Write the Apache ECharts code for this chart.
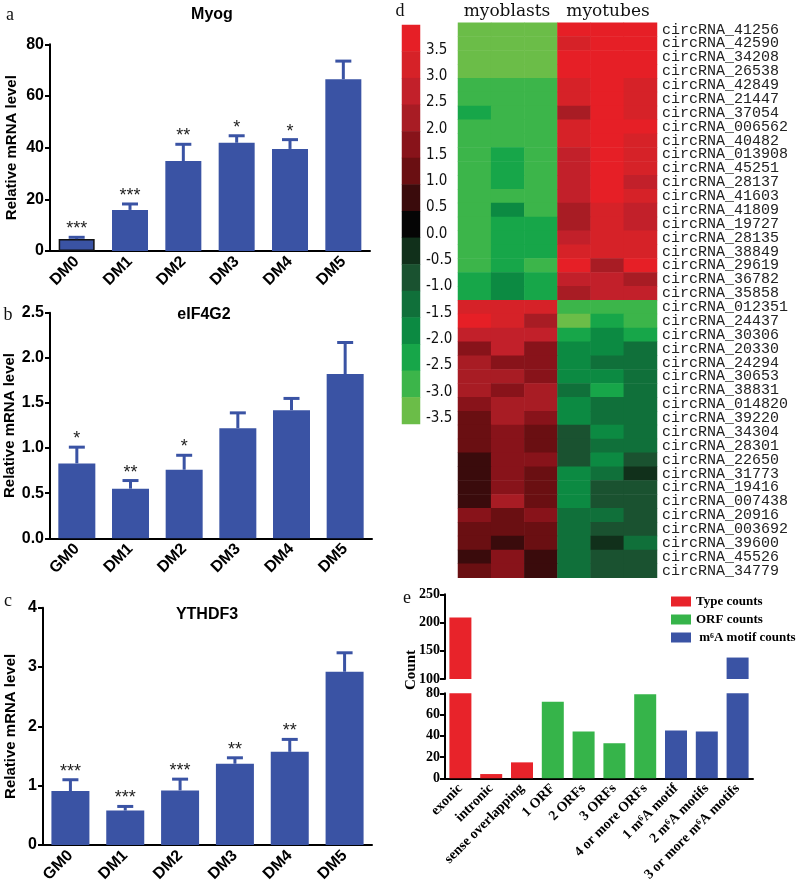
<!DOCTYPE html>
<html><head><meta charset="utf-8">
<script src="https://cdn.jsdelivr.net/npm/echarts@6/dist/echarts.min.js"></script>
<style>html,body{margin:0;padding:0;background:#fff}#c{width:800px;height:896px}</style>
</head><body><div id="c"></div>
<script>
// ---------- Panel a: Myog ----------
const myogCats = ['DM0','DM1','DM2','DM3','DM4','DM5'];
const myogMean = [4.6, 15.9, 34.8, 41.9, 39.5, 66.5];
const myogErrTop = [5.3, 18.2, 41.3, 44.6, 43.1, 73.5];
const myogStars = ['***','***','**','*','*',''];
const myogTicks = [0, 20, 40, 60, 80];
// ---------- Panel b: eIF4G2 ----------
const eifCats = ['GM0','DM1','DM2','DM3','DM4','DM5'];
const eifMean = [0.83, 0.55, 0.76, 1.22, 1.42, 1.82];
const eifErrTop = [1.01, 0.64, 0.92, 1.39, 1.55, 2.17];
const eifStars = ['*','**','*','','',''];
const eifTicks = ['0.0','0.5','1.0','1.5','2.0','2.5'];
// ---------- Panel c: YTHDF3 ----------
const ythCats = ['GM0','DM1','DM2','DM3','DM4','DM5'];
const ythMean = [0.91, 0.58, 0.92, 1.37, 1.57, 2.92];
const ythErrTop = [1.10, 0.65, 1.11, 1.47, 1.78, 3.24];
const ythStars = ['***','***','***','**','**',''];
const ythTicks = [0, 1, 2, 3, 4];
// ---------- Panel d: heatmap ----------
const hmCols = ['myoblasts-1','myoblasts-2','myoblasts-3','myotubes-1','myotubes-2','myotubes-3'];
const hmRows = ['circRNA_41256','circRNA_42590','circRNA_34208','circRNA_26538','circRNA_42849',
 'circRNA_21447','circRNA_37054','circRNA_006562','circRNA_40482','circRNA_013908',
 'circRNA_45251','circRNA_28137','circRNA_41603','circRNA_41809','circRNA_19727',
 'circRNA_28135','circRNA_38849','circRNA_29619','circRNA_36782','circRNA_35858',
 'circRNA_012351','circRNA_24437','circRNA_30306','circRNA_20330','circRNA_24294',
 'circRNA_30653','circRNA_38831','circRNA_014820','circRNA_39220','circRNA_34304',
 'circRNA_28301','circRNA_22650','circRNA_31773','circRNA_19416','circRNA_007438',
 'circRNA_20916','circRNA_003692','circRNA_39600','circRNA_45526','circRNA_34779'];
const hmValues = [
 [-3.5,-3.5,-3.5, 3.5,3.5,3.5],
 [-3.5,-3.5,-3.5, 3.0,3.5,3.5],
 [-3.5,-3.5,-3.5, 3.5,3.5,3.5],
 [-3.5,-3.5,-3.5, 3.5,3.5,3.5],
 [-3.0,-3.0,-3.0, 3.0,3.5,3.0],
 [-3.0,-3.0,-3.0, 3.0,3.5,3.0],
 [-2.5,-3.0,-3.0, 2.0,3.5,3.0],
 [-3.0,-3.0,-3.0, 3.0,3.5,3.5],
 [-3.0,-3.0,-3.0, 3.0,3.5,3.0],
 [-3.0,-2.5,-3.0, 2.5,3.5,3.0],
 [-3.0,-2.5,-3.0, 2.5,3.5,3.0],
 [-3.0,-2.5,-3.0, 2.5,3.5,2.5],
 [-3.0,-3.0,-3.0, 2.5,3.5,3.0],
 [-3.0,-2.0,-3.0, 2.0,3.0,2.5],
 [-3.0,-2.5,-2.5, 2.0,3.0,2.5],
 [-3.0,-2.5,-2.5, 2.5,3.0,3.0],
 [-3.0,-2.5,-2.5, 3.0,3.0,3.0],
 [-3.0,-2.5,-3.0, 3.5,2.0,3.5],
 [-2.5,-2.0,-2.5, 2.5,2.5,2.0],
 [-2.5,-2.0,-2.5, 2.0,2.5,2.5],
 [3.0,3.0,3.0, -3.0,-3.0,-3.0],
 [3.5,3.0,2.0, -3.5,-2.5,-3.0],
 [2.5,2.5,2.5, -2.5,-2.0,-2.5],
 [1.5,2.5,1.5, -2.0,-2.0,-1.5],
 [2.0,1.5,1.5, -2.0,-1.5,-1.5],
 [2.0,2.0,1.5, -2.0,-2.0,-1.5],
 [2.0,1.5,2.0, -1.5,-2.5,-1.5],
 [1.5,2.0,2.0, -2.0,-1.5,-1.5],
 [1.0,2.0,1.5, -2.0,-1.5,-1.5],
 [1.0,1.5,1.0, -1.0,-2.0,-1.5],
 [1.0,1.5,1.0, -1.0,-1.5,-1.5],
 [0.5,1.5,1.5, -1.0,-2.0,-1.0],
 [0.5,1.5,1.0, -2.0,-1.5,-0.5],
 [0.5,1.5,1.0, -2.0,-1.0,-1.0],
 [0.5,2.0,1.0, -2.0,-1.0,-1.0],
 [1.5,1.0,1.5, -1.5,-1.5,-1.0],
 [1.0,1.0,1.0, -1.5,-1.0,-1.0],
 [1.0,0.5,1.0, -1.5,-0.5,-1.5],
 [0.5,1.5,0.5, -1.5,-1.0,-1.0],
 [1.0,1.5,0.5, -1.5,-1.0,-1.0]
];
const cbLevels = [3.5,3.0,2.5,2.0,1.5,1.0,0.5,0.0,-0.5,-1.0,-1.5,-2.0,-2.5,-3.0,-3.5];
const cbColors = ['#e61f26','#d62228','#c2202a','#a81c24','#88131a','#6a0f12','#3a0b0c','#050505',
                  '#11301b','#1a5230','#10703a','#0c8a42','#17a649','#3cb54a','#6bbd48'];
// ---------- Panel e ----------
const eCats = ['exonic','intronic','sense overlapping','1 ORF','2 ORFs','3 ORFs','4 or more ORFs',
               '1 m⁶A motif','2 m⁶A motifs','3 or more m⁶A motifs'];
const typeCounts = [209, 4, 15, null, null, null, null, null, null, null];
const orfCounts  = [null, null, null, 72, 44, 33, 79, null, null, null];
const m6aCounts  = [null, null, null, null, null, null, null, 45, 44, 138];
const eUpperTicks = [100, 150, 200, 250];
const eLowerTicks = [0, 20, 40, 60, 80];

const BLUE = '#3a53a4', RED = '#e8232a', GREEN = '#36b44a';
const SANS = 'Liberation Sans, Arial, sans-serif';
const SERIF = 'Liberation Serif, Times New Roman, serif';
const HSERIF = 'DejaVu Serif, serif';
const MONO = 'Liberation Mono, DejaVu Sans Mono, monospace';

function barAxes(gi, cats, min, max, interval, fmt, nameGap) {
  return {
    x: {type:'category', gridIndex:gi, data:cats,
        axisLine:{lineStyle:{color:'#000', width:2}},
        axisTick:{alignWithLabel:true, length:5, lineStyle:{color:'#000', width:2}},
        axisLabel:{rotate:45, interval:0, fontSize:16, fontWeight:'bold', color:'#000', fontFamily:SANS, margin:8}},
    y: {type:'value', gridIndex:gi, min, max, interval,
        axisLine:{show:true, lineStyle:{color:'#000', width:2}},
        axisTick:{show:true, length:5, lineStyle:{color:'#000', width:2}},
        splitLine:{show:false},
        axisLabel:{fontSize:16, fontWeight:'bold', color:'#000', fontFamily:SANS, margin:6, formatter:fmt},
        name:'Relative mRNA level', nameLocation:'middle', nameGap,
        nameTextStyle:{fontSize:15, fontWeight:'bold', color:'#000', fontFamily:SANS}}
  };
}
function barSeries(gi, means, w, outlineFirst) {
  return {type:'bar', xAxisIndex:gi, yAxisIndex:gi, barWidth:w,
    data: means.map((m,i)=> (outlineFirst && i===0) ? {value:m, itemStyle:{borderColor:'#111', borderWidth:1.5}} : m),
    itemStyle:{color:BLUE}, z:2};
}
function errSeries(gi, means, tops, stars) {
  return {type:'custom', xAxisIndex:gi, yAxisIndex:gi, z:3,
    data: means.map((m,i)=>[i, m, tops[i]]),
    renderItem(params, api) {
      const i = params.dataIndex;
      const p0 = api.coord([api.value(0), api.value(1)]);
      const p1 = api.coord([api.value(0), api.value(2)]);
      const ch = [
        {type:'line', shape:{x1:p0[0], y1:p0[1], x2:p1[0], y2:p1[1]}, style:{stroke:BLUE, lineWidth:3}},
        {type:'line', shape:{x1:p1[0]-8, y1:p1[1], x2:p1[0]+8, y2:p1[1]}, style:{stroke:BLUE, lineWidth:3}}
      ];
      if (stars[i]) ch.push({type:'text', x:p1[0], y:p1[1]-8,
        style:{text:stars[i], align:'center', verticalAlign:'middle', textAlign:'center', textVerticalAlign:'middle',
               fontSize:18, fontFamily:SANS, fill:'#222'}});
      return {type:'group', children:ch};
    }};
}

const A = barAxes(0, myogCats, 0, 80, 20, v=>String(v), 31);
const B = barAxes(1, eifCats, 0, 2.5, 0.5, v=>eifTicks[Math.round(v/0.5)], 33);
const C = barAxes(2, ythCats, 0, 4, 1, v=>String(v), 25);

const hidden = {show:false};
const pieces = cbLevels.map((v,k)=>{
  const p = {color:cbColors[k]};
  if (k === 0) p.gte = v - 0.25; else if (k === cbLevels.length-1) p.lt = v + 0.25;
  else { p.gte = v - 0.25; p.lt = v + 0.25; }
  return p;
});

const hmData = [];
hmValues.forEach((row, r)=>row.forEach((v, c)=>hmData.push([c, r, v])));
const cbData = cbLevels.map((v,k)=>[0, k, v]);

const eXBase = {type:'category', data:eCats};
const T = (x, y, text, font, fill, extra) => Object.assign({type:'text', x, y,
  style:{text, font, fill, align:'center', verticalAlign:'middle', textAlign:'center', textVerticalAlign:'middle'}}, extra||{});
const option = {
  animation:false,
  backgroundColor:'#fff',
  textStyle:{fontFamily:SANS},
  grid:[
    {left:50, top:44.3, width:320, height:206.7},
    {left:50, top:312.7, width:322, height:225.6},
    {left:43, top:607.7, width:329, height:237.3},
    {left:458, top:22.7, width:199, height:555},
    {left:402, top:25, width:18, height:399},
    {left:402, top:49.7, width:18, height:368.3},
    {left:445, top:594.3, width:308, height:84.7},
    {left:445, top:693.3, width:308, height:85}
  ],
  visualMap:{type:'piecewise', show:false, dimension:2, seriesIndex:[6,7], pieces},
  legend:{left:666, top:590, orient:'vertical', itemWidth:20, itemHeight:10, itemGap:5, icon:'rect',
    selectedMode:false, textStyle:{fontFamily:SERIF, fontWeight:'bold', fontSize:13, color:'#000'},
    data:['Type counts','ORF counts',' m⁶A motif counts']},
  xAxis:[A.x, B.x, C.x,
    {type:'category', gridIndex:3, data:hmCols, show:false},
    {type:'category', gridIndex:4, data:['cb'], show:false},
    {type:'category', gridIndex:5, data:['cb'], show:false},
    Object.assign({}, eXBase, {gridIndex:6, show:false}),
    Object.assign({}, eXBase, {gridIndex:7,
      axisLine:{lineStyle:{color:'#000', width:2}},
      axisTick:{alignWithLabel:true, length:5, lineStyle:{color:'#000', width:2}},
      axisLabel:{rotate:45, interval:0, fontSize:14, fontWeight:'bold', color:'#000', fontFamily:SERIF, margin:8}})
  ],
  yAxis:[A.y, B.y, C.y,
    {type:'category', gridIndex:3, data:hmRows, inverse:true, position:'right',
      axisLine:hidden, axisTick:hidden,
      axisLabel:{interval:0, fontSize:15, fontFamily:MONO, color:'#222', margin:5, padding:[5,0,0,0]}},
    {type:'category', gridIndex:4, data:cbLevels.map(String), inverse:true, show:false},
    {type:'value', gridIndex:5, min:-3.5, max:3.5, interval:0.5, position:'right',
      axisLine:hidden, axisTick:hidden, splitLine:hidden,
      axisLabel:{fontSize:15, color:'#111', margin:6, fontFamily:'Liberation Sans Narrow, DejaVu Sans Condensed, Liberation Sans',
        formatter:v=>v.toFixed(1)}},
    {type:'value', gridIndex:6, min:eUpperTicks[0], max:eUpperTicks[eUpperTicks.length-1], interval:50,
      axisLine:{show:true, lineStyle:{color:'#000', width:2}},
      axisTick:{show:true, length:5, lineStyle:{color:'#000', width:2}}, splitLine:hidden,
      axisLabel:{fontSize:14, fontWeight:'bold', color:'#000', fontFamily:SERIF, margin:5}},
    {type:'value', gridIndex:7, min:eLowerTicks[0], max:eLowerTicks[eLowerTicks.length-1], interval:20,
      axisLine:{show:true, lineStyle:{color:'#000', width:2}},
      axisTick:{show:true, length:5, lineStyle:{color:'#000', width:2}}, splitLine:hidden,
      axisLabel:{fontSize:14, fontWeight:'bold', color:'#000', fontFamily:SERIF, margin:5}}
  ],
  series:[
    barSeries(0, myogMean, 36, true), errSeries(0, myogMean, myogErrTop, myogStars),
    barSeries(1, eifMean, 37, false), errSeries(1, eifMean, eifErrTop, eifStars),
    barSeries(2, ythMean, 38, false), errSeries(2, ythMean, ythErrTop, ythStars),
    {type:'heatmap', xAxisIndex:3, yAxisIndex:3, data:hmData},
    {type:'heatmap', xAxisIndex:4, yAxisIndex:4, data:cbData},
    {name:'Type counts', type:'bar', stack:'u', xAxisIndex:6, yAxisIndex:6, barWidth:22, data:typeCounts, itemStyle:{color:RED}},
    {name:'ORF counts', type:'bar', stack:'u', xAxisIndex:6, yAxisIndex:6, barWidth:22, data:orfCounts, itemStyle:{color:GREEN}},
    {name:' m⁶A motif counts', type:'bar', stack:'u', xAxisIndex:6, yAxisIndex:6, barWidth:22, data:m6aCounts, itemStyle:{color:BLUE}},
    {name:'Type counts', type:'bar', stack:'l', xAxisIndex:7, yAxisIndex:7, barWidth:22, data:typeCounts, itemStyle:{color:RED}},
    {name:'ORF counts', type:'bar', stack:'l', xAxisIndex:7, yAxisIndex:7, barWidth:22, data:orfCounts, itemStyle:{color:GREEN}},
    {name:' m⁶A motif counts', type:'bar', stack:'l', xAxisIndex:7, yAxisIndex:7, barWidth:22, data:m6aCounts, itemStyle:{color:BLUE}}
  ],
  graphic:[
    T(212, 15, 'Myog', 'bold 16px '+SANS, '#000'),
    T(204, 315, 'eIF4G2', 'bold 16px '+SANS, '#000'),
    T(207, 615, 'YTHDF3', 'bold 16px '+SANS, '#000'),
    T(507, 12, 'myoblasts', '17px '+HSERIF, '#111'),
    T(608, 12, 'myotubes', '17px '+HSERIF, '#111'),
    T(10, 15, 'a', '18px '+SERIF, '#111'),
    T(8, 315, 'b', '18px '+SERIF, '#111'),
    T(8, 601, 'c', '18px '+SERIF, '#111'),
    T(400, 11, 'd', '18px '+SERIF, '#111'),
    T(407, 598, 'e', '18px '+SERIF, '#111'),
    T(411, 670, 'Count', 'bold 15px '+SERIF, '#000', {rotation:Math.PI/2})
  ]
};
const chart = echarts.init(document.getElementById('c'), null, {renderer:'canvas'});
chart.setOption(option);
</script>
</body></html>
